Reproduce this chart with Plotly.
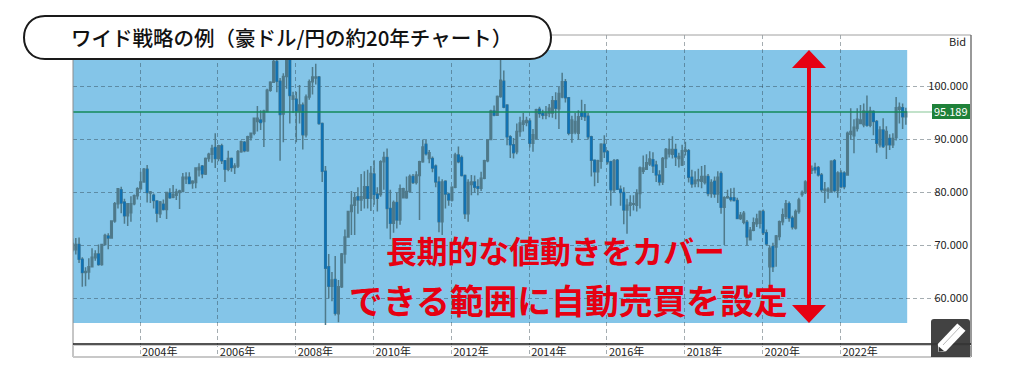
import pandas as pd
import plotly.graph_objects as go

# ---- data (monthly candles, Apr 2002 onwards) ----
opens = [
69.2,69.2,70.2,67.4,64.9,65.0,66.0,67.7,68.4,66.4,
70.2,71.8,71.4,74.6,77.9,80.5,78.2,75.6,76.2,77.9,
79.4,80.7,82.0,84.4,79.9,79.5,78.4,76.0,77.8,76.8,
79.9,79.1,79.5,80.0,80.2,82.6,82.9,81.8,81.9,84.3,
85.0,83.5,86.4,87.2,88.5,86.4,88.8,86.0,84.4,86.4,
84.7,85.0,87.7,89.5,87.9,90.4,91.2,93.4,93.7,93.4,
95.3,99.3,100.8,104.7,101.0,94.8,101.9,105.0,97.6,97.6,
95.4,96.5,90.9,98.0,100.9,101.6,101.8,93.0,84.0,66.0,
62.3,63.6,57.1,62.2,68.4,71.6,76.4,77.6,79.2,78.6,
78.9,81.1,78.9,83.5,79.7,79.6,85.8,86.6,77.0,74.2,
78.1,74.8,79.0,79.0,80.2,83.0,81.9,83.2,85.8,89.1,
86.4,86.4,85.0,82.0,74.5,82.1,79.7,78.6,81.0,87.1,
86.6,83.2,76.0,81.5,82.0,81.1,80.8,82.7,86.0,90.0,
95.4,94.6,98.1,101.0,96.5,90.5,89.0,87.7,91.5,92.9,
93.2,93.5,89.3,90.2,95.7,94.9,94.6,95.0,95.0,97.3,
95.8,98.0,100.9,97.9,91.2,91.4,91.2,95.0,95.0,94.4,
90.5,86.1,83.9,85.9,89.1,87.7,85.8,80.5,86.1,80.6,
80.0,76.7,77.6,77.8,77.6,79.8,84.0,84.4,85.4,86.2,
85.2,83.3,82.0,86.4,87.3,87.2,88.1,86.4,85.2,87.8,
87.9,82.9,81.7,82.2,82.1,81.9,83.0,79.8,82.1,79.7,
83.6,77.2,79.0,79.0,79.0,78.5,75.1,74.4,74.4,71.1,
72.9,74.1,74.2,76.4,72.4,66.0,69.8,69.7,71.7,74.5,
75.5,77.9,75.2,73.3,76.4,79.6,80.0,82.0,84.2,84.7,
84.7,83.3,80.4,80.3,80.3,86.0,80.4,83.7,83.7,83.3,
91.0,90.7,92.1,93.0,92.8,95.3,92.7,95.3,93.4,89.0,
91.8,89.0,90.2,89.0,90.4,95.7,96.0,94.3,
]
highs = [
71.3,71.4,71.5,67.8,65.9,67.6,69.5,69.1,70.2,70.3,
72.2,72.3,74.6,78.2,80.8,81.1,78.8,77.9,79.3,79.6,
81.0,83.9,84.6,85.2,80.3,79.8,78.5,78.4,78.7,80.1,
80.8,81.4,80.7,80.5,83.7,83.8,83.8,82.3,84.7,85.5,
85.2,86.6,87.5,89.0,91.2,89.0,89.2,86.1,87.9,86.6,
85.5,88.0,89.8,89.7,90.7,91.3,94.1,96.3,95.5,95.6,
99.6,101.0,105.1,105.5,101.6,102.5,107.0,107.4,99.0,99.0,
100.3,97.0,98.5,101.3,103.7,104.3,102.0,93.2,85.0,68.4,
65.0,68.0,63.5,68.6,73.0,76.5,80.3,80.0,81.0,83.5,
84.0,84.3,85.0,86.1,81.0,86.1,87.7,88.3,80.5,78.5,
80.0,81.5,80.9,83.0,83.4,83.5,84.0,86.0,90.0,89.9,
88.0,86.8,85.3,83.0,82.5,82.3,80.0,81.2,87.5,88.7,
87.0,83.4,82.5,83.3,83.2,82.5,83.9,86.2,90.0,95.6,
96.4,98.3,105.5,103.0,96.6,90.8,90.3,93.0,94.3,95.0,
94.3,94.0,92.0,95.8,96.2,95.6,96.3,96.7,98.2,98.9,
99.9,102.6,101.4,98.0,94.5,95.0,95.5,97.5,96.7,95.0,
90.7,86.2,86.2,89.3,90.8,88.0,86.0,86.3,86.3,81.3,
81.0,78.8,79.5,79.5,80.6,84.9,87.0,87.2,87.8,87.6,
86.0,84.2,86.7,88.4,90.2,90.6,89.2,87.5,89.0,89.6,
88.2,84.3,84.0,84.5,85.0,85.2,83.5,82.5,83.0,84.0,
84.0,79.3,80.5,80.8,80.9,79.0,76.3,76.5,74.8,73.5,
75.3,76.0,76.6,76.8,73.0,70.0,70.5,72.0,74.7,77.0,
78.6,78.3,75.6,76.8,79.0,80.4,82.3,85.0,85.1,85.6,
85.0,83.7,82.0,81.0,86.1,86.3,84.0,84.2,84.0,91.5,
95.9,93.8,95.9,96.5,96.8,98.3,96.2,95.5,93.7,92.5,
94.0,92.5,91.0,91.2,98.0,97.0,96.8,96.0,
]
lows = [
68.8,68.3,66.7,62.2,62.3,63.6,66.0,67.1,66.2,66.2,
70.0,69.3,71.3,74.3,77.0,76.1,74.1,73.7,74.5,77.6,
78.7,80.7,81.9,78.1,78.0,77.0,74.4,75.2,76.6,75.0,
78.8,78.9,78.6,76.9,80.1,81.6,81.6,80.7,80.8,83.0,
82.7,83.3,85.8,85.6,84.6,85.9,85.4,82.0,84.0,83.9,
83.5,84.6,87.5,87.6,87.7,89.8,90.8,91.5,91.8,88.6,
95.2,99.0,100.7,98.9,86.0,89.5,99.6,93.0,95.0,89.5,
93.0,88.1,90.4,97.5,98.5,100.4,92.8,82.0,55.0,60.0,
59.5,56.8,55.5,62.0,66.6,71.5,72.0,72.0,76.0,76.5,
77.0,77.0,76.5,77.7,76.4,79.2,80.5,73.2,71.2,72.4,
73.2,73.9,78.9,78.8,80.0,81.6,81.5,74.8,85.6,87.0,
85.5,83.8,81.0,72.5,72.0,77.0,77.5,78.3,80.8,85.5,
83.0,75.0,74.5,79.5,80.0,79.5,80.3,82.5,85.7,89.9,
94.4,94.5,97.9,95.9,88.9,86.5,86.4,87.2,90.5,91.5,
92.5,88.5,87.7,90.0,94.1,93.8,93.8,94.2,94.1,93.8,
92.0,97.8,97.0,90.8,89.4,91.0,90.0,93.7,93.5,90.0,
83.0,81.2,81.8,84.5,86.5,85.3,77.5,80.0,80.5,77.5,
74.0,72.2,75.5,76.6,76.4,77.0,83.5,84.3,85.0,83.7,
82.0,81.3,81.4,84.6,86.6,86.4,85.0,84.7,85.0,87.0,
81.9,80.9,81.0,81.0,80.8,81.5,79.3,79.0,79.0,78.0,
76.0,70.1,78.8,78.3,78.3,75.0,74.8,74.0,70.0,71.0,
72.7,73.5,73.2,72.0,70.0,62.0,65.0,66.0,71.0,73.8,
75.0,74.5,73.0,73.0,76.0,79.2,79.7,81.9,83.5,83.6,
83.0,80.0,78.0,78.8,80.0,80.0,79.0,80.8,80.6,83.2,
90.0,87.4,91.5,92.9,92.3,92.4,92.3,90.8,87.5,88.5,
88.4,86.3,88.0,88.4,89.8,93.0,92.0,92.8,
]
closes = [
70.4,70.2,67.4,64.9,65.1,66.0,67.8,68.4,66.4,70.2,
71.9,71.4,74.6,77.9,80.7,78.0,75.6,77.9,77.9,79.4,
80.7,82.0,84.4,80.0,80.1,78.5,76.1,78.2,76.8,80.0,
79.0,79.6,80.1,80.3,82.9,82.9,81.7,82.1,84.6,84.7,
83.5,86.4,87.2,88.3,86.4,88.8,86.0,84.4,86.4,84.7,
85.0,87.7,89.6,87.9,90.5,91.2,94.0,94.0,93.2,95.4,
99.3,100.8,104.7,101.0,94.7,101.9,105.0,98.3,98.2,95.4,
96.5,90.9,98.0,100.9,101.8,101.8,93.0,84.0,65.7,62.3,
63.5,57.2,62.2,68.4,71.6,76.4,77.6,79.0,78.6,79.2,
81.1,78.9,83.6,79.6,78.9,85.8,86.6,77.0,74.2,78.1,
74.8,80.7,80.7,80.2,83.0,81.9,83.3,85.8,88.6,87.3,
87.5,84.6,82.0,74.5,82.0,79.7,78.6,81.0,87.1,85.8,
83.2,76.0,81.9,82.0,81.0,80.8,82.7,86.0,89.9,95.4,
94.6,98.1,101.2,96.1,90.5,89.0,87.5,91.5,93.1,93.5,
93.6,89.3,90.9,95.6,94.9,94.6,95.0,95.9,97.3,95.9,
98.7,100.9,97.9,91.2,93.7,93.4,94.3,94.4,94.3,90.5,
86.1,83.9,86.0,89.1,87.7,85.8,80.5,86.0,80.6,80.0,
76.7,77.6,78.0,77.9,79.9,84.6,84.6,85.6,86.3,85.0,
83.3,82.0,86.4,88.1,88.1,88.1,86.7,86.8,87.9,88.0,
82.9,81.6,82.3,82.4,83.0,83.0,79.8,81.9,79.7,82.9,
77.2,79.0,79.2,78.7,78.5,75.1,75.7,76.1,71.6,72.9,
74.3,75.0,76.4,72.4,70.3,69.5,66.0,71.8,74.5,75.8,
77.9,75.2,73.5,76.4,78.6,80.0,82.0,84.9,84.5,84.3,
83.3,80.5,80.6,80.6,85.9,80.4,83.7,81.1,81.1,91.2,
91.5,92.3,93.8,93.7,95.4,92.7,95.4,93.4,89.3,91.8,
88.7,91.5,89.0,90.2,96.0,96.1,94.3,95.19,
]
first_month = "2002-04-08"
year_ticks = ["2004-01-01", "2006-01-01", "2008-01-01", "2010-01-01", "2012-01-01",
              "2014-01-01", "2016-01-01", "2018-01-01", "2020-01-01", "2022-01-01"]
year_labels = ["2004年", "2006年", "2008年", "2010年", "2012年",
               "2014年", "2016年", "2018年", "2020年", "2022年"]
price_ticks = [60, 70, 80, 90, 100]
last_price = 95.189
title_text = "ワイド戦略の例（豪ドル/円の約20年チャート）"
line1_text = "長期的な値動きをカバー"
line2_text = "できる範囲に自動売買を設定"

dates = pd.date_range(first_month, periods=len(closes), freq="30.4375D")
down = [(d, o, c) for d, o, c in zip(dates, opens, closes) if c < o]
down_dates = [d for d, o, c in down]
down_open = [o for d, o, c in down]
down_close = [c for d, o, c in down]

W, H = 1028, 386
L, R, T, B = 73, 971, 35, 357
FONT = "Noto Sans CJK JP"
RED = "#e60012"
XMIN, XMAX = "2002-04-12", "2025-05-11"
YMIN, YMAX = 48.96, 109.72
CANDLE = "#47707f"
WICK = "#4f7a8b"
BLUE = "#0f72b5"


def px(x):
    return (x - L) / (R - L)


def py(y):
    return (B - y) / (B - T)


def path(points):
    return "M" + " L".join(f"{px(a):.5f},{py(b):.5f}" for a, b in points) + " Z"


fig = go.Figure()
# all candles with their wicks
fig.add_trace(go.Candlestick(
    x=dates, open=opens, high=highs, low=lows, close=closes, whiskerwidth=0,
    increasing=dict(line=dict(color=WICK, width=1.5), fillcolor=CANDLE),
    decreasing=dict(line=dict(color=WICK, width=1.5), fillcolor=CANDLE),
    showlegend=False, hoverinfo="skip",
))
# falling bodies in blue, no wick
fig.add_trace(go.Candlestick(
    x=down_dates, open=down_open, high=down_open, low=down_close, close=down_close, whiskerwidth=0,
    increasing=dict(line=dict(color=BLUE, width=0.8), fillcolor=BLUE),
    decreasing=dict(line=dict(color=BLUE, width=0.8), fillcolor=BLUE),
    showlegend=False, hoverinfo="skip",
))

shapes = [
    dict(type="rect", layer="below", xref="x", yref="y", x0=XMIN, x1="2023-09-20",
         y0=55.38, y1=106.89, fillcolor="#84c5e8", line_width=0),
    dict(type="rect", layer="between", xref="x", yref="y", x0="2024-07-20", x1=XMAX,
         y0=YMIN, y1=YMAX, fillcolor="white", line_width=0),
    dict(type="line", layer="above", xref="x", yref="y", x0=XMIN, x1="2023-09-20",
         y0=last_price, y1=last_price, line=dict(color="#14895a", width=1.4)),
    dict(type="line", layer="above", xref="x", yref="y", x0="2023-09-20", x1="2024-07-20",
         y0=last_price, y1=last_price, line=dict(color="#86c596", width=1.2)),
]


def line(x0, y0, x1, y1, color, width):
    return dict(type="line", layer="above", xref="paper", yref="paper",
                x0=px(x0), y0=py(y0), x1=px(x1), y1=py(y1), line=dict(color=color, width=width))


shapes += [
    line(L, T, R, T, "#a0a0a0", 1),
    line(L, T, L, B, "#8c8c8c", 1),
    line(R, T, R, B, "#555555", 1.2),
    line(L, B, R, B, "#c8c8c8", 2),
    line(L, 344, R, 344, "#1a1a1a", 1.4),
    line(L, 345.5, R, 345.5, "#cccccc", 1),
]
shapes.append(dict(type="rect", layer="above", xref="paper", yref="paper",
                   x0=px(932), x1=px(970), y0=py(104), y1=py(119),
                   fillcolor="#1f8139", line_width=0))
shapes.append(dict(type="path", layer="above", xref="paper", yref="paper",
                   path=path([(809, 50), (826, 68), (811, 68), (811, 305), (826, 305),
                              (809, 323), (792, 305), (807, 305), (807, 68), (792, 68)]),
                   fillcolor=RED, line_width=0))
x0, x1, y0, y1, r = 931, 970, 319, 357, 3
shapes.append(dict(type="path", layer="above", xref="paper", yref="paper",
                   path=(f"M{px(x0)},{py(y1)} L{px(x0)},{py(y0 + r)} Q{px(x0)},{py(y0)} {px(x0 + r)},{py(y0)} "
                         f"L{px(x1 - r)},{py(y0)} Q{px(x1)},{py(y0)} {px(x1)},{py(y0 + r)} L{px(x1)},{py(y1)} Z"),
                   fillcolor="rgba(52,52,52,0.93)", line_width=0))
shapes.append(dict(type="path", layer="above", xref="paper", yref="paper",
                   path=path([(957.3, 323.5), (965.5, 330.7), (946, 351.2), (938.6, 352), (937.8, 344)]),
                   fillcolor="white", line_width=0))
shapes.append(line(960, 327, 943, 345, "#999999", 0.7))
shapes.append(dict(type="path", layer="above", xref="paper", yref="paper",
                   path=path([(939, 351.7), (938.7, 346.5), (944, 351)]),
                   fillcolor="#333333", line_width=0))
a, b, c, d, r = 24, 551, 16, 59, 21
shapes.append(dict(type="path", layer="above", xref="paper", yref="paper",
                   path=(f"M{px(a + r)},{py(c)} L{px(b - r)},{py(c)} "
                         f"C{px(b + r / 3)},{py(c)} {px(b + r / 3)},{py(d)} {px(b - r)},{py(d)} "
                         f"L{px(a + r)},{py(d)} "
                         f"C{px(a - r / 3)},{py(d)} {px(a - r / 3)},{py(c)} {px(a + r)},{py(c)} Z"),
                   fillcolor="white", line=dict(color="#1a1a1a", width=2)))


def label(text, x, y, size, color="#222222", weight=400):
    return dict(text=text, xref="paper", yref="paper", x=px(x), y=py(y), showarrow=False,
                xanchor="center", yanchor="middle",
                font=dict(family=FONT, size=size, color=color, weight=weight))


annotations = [
    label(title_text, 291, 37, 20.5, color="#111111", weight=500),
    label("Bid", 957, 41, 11),
    label(f"{last_price:.3f}", 951, 111.5, 11, color="white"),
    label(line1_text, 555, 249, 30.8, color=RED, weight=700),
    label(line2_text, 568.5, 299, 33.8, color=RED, weight=700),
]

GRID = "rgba(40,60,70,0.42)"
fig.update_layout(
    width=W, height=H, autosize=False,
    margin=dict(l=L, r=W - R, t=T, b=H - B, pad=0),
    paper_bgcolor="white", plot_bgcolor="white",
    showlegend=False, boxmode="overlay",
    shapes=shapes, annotations=annotations,
    font=dict(family=FONT, size=11, color="#222222"),
    xaxis=dict(type="date", range=[XMIN, XMAX], rangeslider=dict(visible=False),
               tickmode="array", tickvals=year_ticks, ticktext=year_labels,
               ticklabelposition="inside right", ticklabelstandoff=-7, ticklabelshift=2, ticks="",
               showline=False, zeroline=False,
               showgrid=True, gridcolor=GRID, griddash="4px,3px", gridwidth=1,
               tickfont=dict(family=FONT, size=11, color="#222222")),
    yaxis=dict(side="right", range=[YMIN, YMAX], tickvals=price_ticks, tickformat=".3f",
               ticklabelposition="inside", ticks="", showline=False, zeroline=False,
               showgrid=True, gridcolor=GRID, griddash="4px,3px", gridwidth=1,
               tickfont=dict(family=FONT, size=11, color="#222222")),
)
fig.write_html("out.html", post_script="document.body.style.margin='0';",
               config=dict(displayModeBar=False))
